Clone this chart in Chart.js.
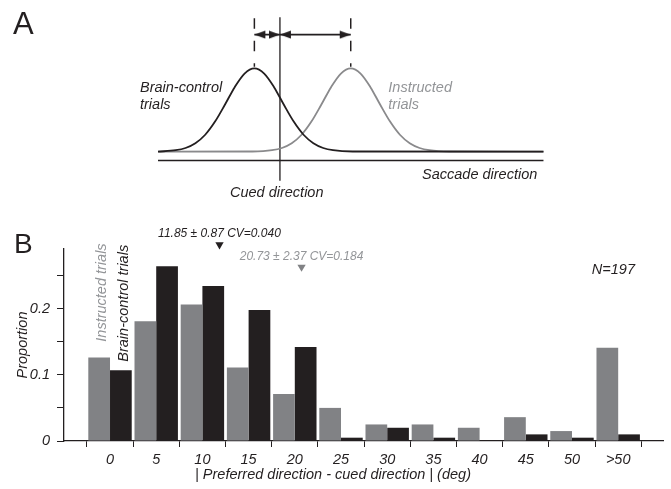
<!DOCTYPE html>
<html>
<head>
<meta charset="utf-8">
<script src="https://cdn.jsdelivr.net/npm/chart.js@4.4.0/dist/chart.umd.min.js"></script>
<style>
  body { margin: 0; background: #fff; }
  #wrap { position: relative; width: 671px; height: 489px; }
  canvas { position: absolute; left: 0; }
  #cA { top: 0; }
  #cB { top: 210px; }
</style>
</head>
<body>
<div id="wrap">
  <canvas id="cA" width="671" height="210"></canvas>
  <canvas id="cB" width="671" height="279"></canvas>
</div>
<script>
// ---- panel A : schematic tuning curves (x = saccade direction, cued = 0) ----
const brainX = [-12.4, -10.6, -9.6, -8.6, -7.6, -6.6, -5.6, -4.6, -3.6, -2.6, -1.6, -0.6, 0.4, 1.4, 2.4, 3.4, 4.4, 5.4, 7.4, 26.8];
const brainY = [0, 0.017, 0.044, 0.101, 0.203, 0.361, 0.563, 0.775, 0.938, 1, 0.938, 0.775, 0.563, 0.361, 0.203, 0.101, 0.044, 0.017, 0.002, 0];
const instrX = [-12.4, -2.8, -0.8, 0.2, 1.2, 2.2, 3.2, 4.2, 5.2, 6.2, 7.2, 8.2, 9.2, 10.2, 11.2, 12.2, 13.2, 14.2, 15.2, 17.2, 26.8];
const instrY = [0, 0.002, 0.017, 0.044, 0.101, 0.203, 0.361, 0.563, 0.775, 0.938, 1, 0.938, 0.775, 0.563, 0.361, 0.203, 0.101, 0.044, 0.017, 0.002, 0];
const cuedDir = 0;
const brainPeak = -2.6;
const instrPeak = 7.2;
const dirRange = [-12.4, 26.8];

// ---- panel B : histogram of |preferred - cued| ----
const binLabels = ['0', '5', '10', '15', '20', '25', '30', '35', '40', '45', '50', '>50'];
const binX = [0, 5, 10, 15, 20, 25, 30, 35, 40, 45, 50, 55];
const instructed = [0.126, 0.181, 0.206, 0.111, 0.071, 0.050, 0.025, 0.025, 0.020, 0.036, 0.015, 0.141];
const brainControl = [0.107, 0.264, 0.234, 0.198, 0.142, 0.005, 0.020, 0.005, 0, 0.010, 0.005, 0.010];
const yTicks = [0, 0.05, 0.1, 0.15, 0.2, 0.25];
const yTickLabels = ['0', '', '0.1', '', '0.2', ''];
const meanX = [11.85, 20.73];
const meanY = [0.2966, 0.2627];
const meanText = ['11.85 \u00b1 0.87 CV=0.040', '20.73 \u00b1 2.37 CV=0.184'];

const BLACK = '#231f20';
const GRAY = '#818285';
const GRAY_TXT = '#939598';
const FAM = '"Liberation Sans", Arial, Helvetica, sans-serif';
Chart.defaults.font.family = FAM;

// arrowhead image, tip at the centre, pointing right
const arrowImg = document.createElement('canvas');
arrowImg.width = 24; arrowImg.height = 9;
(function () {
  const c = arrowImg.getContext('2d');
  c.fillStyle = BLACK;
  c.beginPath(); c.moveTo(12, 4.5); c.lineTo(1, 0.6); c.lineTo(1, 8.4); c.closePath(); c.fill();
})();

function seg(x0, y0, x1, y1) { return [{x: x0, y: y0}, {x: x1, y: y1}]; }

const textA = {
  id: 'textA',
  afterDraw(chart) {
    const ctx = chart.ctx;
    ctx.save();
    ctx.fillStyle = BLACK;
    ctx.textBaseline = 'alphabetic';
    ctx.font = '31px ' + FAM;
    ctx.textAlign = 'left';
    ctx.fillText('A', 13, 34.3);
    ctx.font = 'italic 14.5px ' + FAM;
    ctx.fillText('Brain-control', 140, 91.7);
    ctx.fillText('trials', 140, 109.3);
    ctx.fillText('Cued direction', 230, 196.5);
    ctx.textAlign = 'right';
    ctx.fillText('Saccade direction', 537.3, 179);
    ctx.textAlign = 'left';
    ctx.fillStyle = GRAY_TXT;
    ctx.fillText('Instructed', 388.3, 91.7);
    ctx.fillText('trials', 388.3, 109.3);
    ctx.restore();
  }
};

new Chart(document.getElementById('cA'), {
  type: 'line',
  data: {
    datasets: [
      { data: brainX.map((x, i) => ({x, y: brainY[i]})), borderColor: BLACK, borderWidth: 1.8, pointRadius: 0, cubicInterpolationMode: 'monotone' },
      { data: instrX.map((x, i) => ({x, y: instrY[i]})), borderColor: '#8a8a8c', borderWidth: 1.8, pointRadius: 0, cubicInterpolationMode: 'monotone' },
      { data: seg(dirRange[0], -0.106, dirRange[1], -0.106), borderColor: BLACK, borderWidth: 1.4, pointRadius: 0 },
      { data: seg(cuedDir, 1.615, cuedDir, -0.349), borderColor: BLACK, borderWidth: 1.3, pointRadius: 0 },
      { data: seg(brainPeak, 1.604, brainPeak, 1.02), borderColor: BLACK, borderWidth: 1.5, borderDash: [10.5, 12], pointRadius: 0 },
      { data: seg(instrPeak, 1.604, instrPeak, 1.02), borderColor: BLACK, borderWidth: 1.5, borderDash: [10.5, 12], pointRadius: 0 },
      { data: seg(brainPeak, 1.406, cuedDir, 1.406), borderColor: BLACK, borderWidth: 1.6, pointRadius: 3, pointStyle: arrowImg, pointRotation: [180, 0] },
      { data: seg(cuedDir, 1.406, instrPeak, 1.406), borderColor: BLACK, borderWidth: 1.6, pointRadius: 3, pointStyle: arrowImg, pointRotation: [180, 0] }
    ]
  },
  options: {
    responsive: false,
    animation: false,
    events: [],
    layout: { padding: 0 },
    plugins: { legend: { display: false }, tooltip: { enabled: false } },
    scales: {
      x: { type: 'linear', display: false, min: -27.9, max: 39.2 },
      y: { type: 'linear', display: false, min: -0.634, max: 1.755 }
    }
  },
  plugins: [textA]
});

const textB = {
  id: 'textB',
  afterDraw(chart) {
    const ctx = chart.ctx;
    const xs = chart.scales.x, ys = chart.scales.y;
    ctx.save();
    ctx.textBaseline = 'alphabetic';
    ctx.fillStyle = BLACK;
    ctx.font = '28px ' + FAM;
    ctx.textAlign = 'left';
    ctx.fillText('B', 14, 43.3);

    ctx.font = 'italic 12px ' + FAM;
    ctx.textAlign = 'center';
    meanText.forEach((t, i) => {
      ctx.fillStyle = i === 0 ? BLACK : GRAY_TXT;
      ctx.fillText(t, xs.getPixelForValue(meanX[i]), ys.getPixelForValue(meanY[i]) - 7.5);
    });

    ctx.font = 'italic 14.5px ' + FAM;
    ctx.fillStyle = BLACK;
    ctx.textAlign = 'right';
    ctx.fillText('N=197', 635, 64.3);
    ctx.textAlign = 'center';
    ctx.fillText('| Preferred direction - cued direction | (deg)', 333, 269);

    ctx.textAlign = 'left';
    ctx.save();
    ctx.translate(106, 131.7); ctx.rotate(-Math.PI / 2);
    ctx.fillStyle = GRAY_TXT;
    ctx.fillText('Instructed trials', 0, 0);
    ctx.restore();
    ctx.save();
    ctx.translate(128, 151.7); ctx.rotate(-Math.PI / 2);
    ctx.fillStyle = BLACK;
    ctx.fillText('Brain-control trials', 0, 0);
    ctx.restore();
    ctx.restore();
  }
};

new Chart(document.getElementById('cB'), {
  type: 'bar',
  data: {
    datasets: [
      { label: 'Instructed trials', data: binX.map((x, i) => ({x, y: instructed[i]})), backgroundColor: GRAY, borderWidth: 0, categoryPercentage: 0.94, barPercentage: 1 },
      { label: 'Brain-control trials', data: binX.map((x, i) => ({x, y: brainControl[i]})), backgroundColor: BLACK, borderWidth: 0, categoryPercentage: 0.94, barPercentage: 1 },
      { type: 'scatter', label: 'mean', data: meanX.map((x, i) => ({x, y: meanY[i]})), pointStyle: 'triangle', rotation: 180,
        pointRadius: 4.8, backgroundColor: [BLACK, GRAY], borderWidth: 0, clip: false }
    ]
  },
  options: {
    responsive: false,
    animation: false,
    events: [],
    layout: { padding: { top: 39, right: 8, left: 0, bottom: 0 } },
    plugins: { legend: { display: false }, tooltip: { enabled: false } },
    scales: {
      x: {
        type: 'linear', min: -4.98, max: 59.85, offset: false,
        afterBuildTicks: a => { a.ticks = binX.map(v => ({value: v})); },
        afterFit: a => { a.height = 48; },
        ticks: { callback: (v, i) => binLabels[i], font: {style: 'italic', size: 14.5}, color: BLACK, padding: 4, maxRotation: 0, autoSkip: false },
        grid: { drawOnChartArea: false, drawTicks: true, tickLength: 6, tickColor: BLACK, tickWidth: 1 },
        border: { color: BLACK, width: 1.3 }
      },
      y: {
        type: 'linear', min: 0, max: 0.29,
        afterBuildTicks: a => { a.ticks = yTicks.map(v => ({value: v})); },
        afterFit: a => { a.width = 64; },
        ticks: { callback: (v, i) => yTickLabels[i], font: {style: 'italic', size: 14.5}, color: BLACK, padding: 7 },
        grid: { drawOnChartArea: false, drawTicks: true, tickLength: 7, tickColor: BLACK, tickWidth: 1 },
        border: { color: BLACK, width: 1.3 },
        title: { display: true, text: 'Proportion', color: BLACK, font: {style: 'italic', size: 14.5}, padding: {top: 14, bottom: 0} }
      }
    }
  },
  plugins: [textB]
});
</script>
</body>
</html>
